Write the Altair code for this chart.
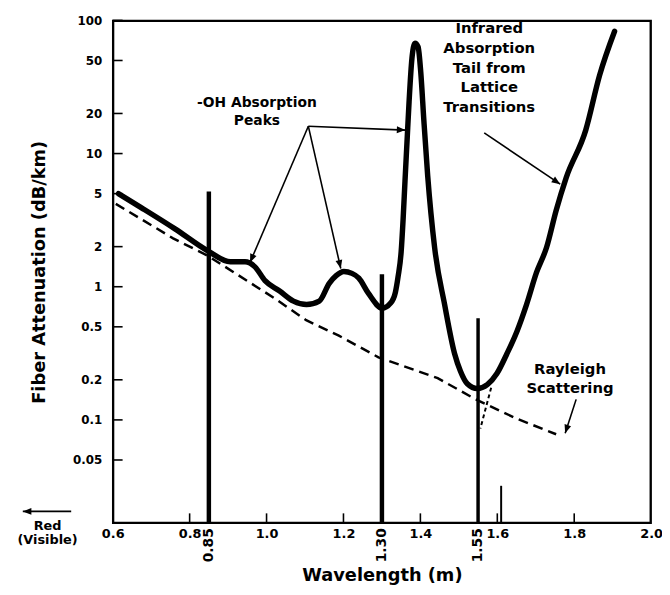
import math
import altair as alt
import pandas as pd

# ---------------- data ----------------
X_MIN, X_MAX = 0.6, 2.0
Y_MIN, Y_MAX = 0.01675, 100.0

x_ticks = [0.6, 0.8, 1.0, 1.2, 1.4, 1.6, 1.8, 2.0]
y_ticks = [0.05, 0.1, 0.2, 0.5, 1, 2, 5, 10, 20, 50, 100]
inner_x_ticks = [0.8, 1.0, 1.2, 1.4, 1.6, 1.8]
inner_y_ticks = [0.05, 0.1, 0.2, 0.5, 1, 2, 5, 10, 20, 50, 100]

# total fibre attenuation (dB/km) vs wavelength
atten_wl = [0.615, 0.674, 0.762, 0.847, 0.906, 0.944, 0.970, 0.996, 1.034, 1.070,
            1.104, 1.137, 1.163, 1.181, 1.201, 1.222, 1.240, 1.265, 1.301, 1.322,
            1.335, 1.342, 1.350, 1.355, 1.360, 1.3655, 1.3706, 1.378, 1.386, 1.394,
            1.401, 1.409, 1.419, 1.437, 1.463, 1.489, 1.504, 1.522, 1.548, 1.574,
            1.599, 1.625, 1.651, 1.676, 1.702, 1.728, 1.753, 1.779, 1.830, 1.866, 1.905]
atten_db = [5.0, 3.93, 2.72, 1.86, 1.54, 1.54, 1.41, 1.11, 0.93, 0.78,
            0.735, 0.78, 1.06, 1.21, 1.30, 1.26, 1.16, 0.89, 0.69, 0.75,
            0.908, 1.19, 1.83, 3.18, 6.22, 12.7, 24.5, 51.7, 67.4, 63.3,
            40.8, 17.8, 6.82, 1.97, 0.735, 0.314, 0.233, 0.187, 0.172, 0.184,
            0.223, 0.314, 0.462, 0.735, 1.28, 1.97, 3.74, 6.58, 15.0, 38.7, 82.8]

# Rayleigh scattering (dashed)
ray_wl = [0.608, 0.757, 0.847, 1.019, 1.103, 1.188, 1.291, 1.445, 1.543, 1.651, 1.753]
ray_db = [4.19, 2.31, 1.71, 0.825, 0.561, 0.429, 0.295, 0.206, 0.143, 0.102, 0.078]

# transmission windows
window_wl = [0.85, 1.30]
window_top = [5.2, 1.24]
window3_wl = [1.55]
window3_top = [0.58]
window_labels = ["0.85", "1.30", "1.55"]
window_label_wl = [0.85, 1.30, 1.55]
short_wl = [1.61]
short_top = [0.032]

# small dashed pointer near 1.55
dash_x1, dash_y1, dash_x2, dash_y2 = [1.584], [0.1745], [1.556], [0.0862]

# annotation arrows (start -> tip)
arrow_x1 = [1.1086, 1.1086, 1.1086, 1.566, 1.805, 0.492]
arrow_y1 = [16.05, 16.05, 16.05, 14.3, 0.1426, 0.02056]
arrow_x2 = [0.957, 1.193, 1.361, 1.7636, 1.7765, 0.3662]
arrow_y2 = [1.52, 1.37, 15.0, 5.89, 0.0794, 0.02056]

# annotation texts (anchor = top centre)
oh_text = ["-OH Absorption\nPeaks"]
oh_x, oh_y = [0.975], [27.2]
note_text = ["Infrared\nAbsorption\nTail from\nLattice\nTransitions", "Rayleigh\nScattering"]
note_x, note_y = [1.579, 1.789], [98.4, 0.273]
red_text = ["Red\n(Visible)"]
red_x, red_y = [0.4305], [0.0178]

# ---------------- chart ----------------
W, H = 545, 509
FONT = "DejaVu Sans"
TICK_PX = 10
LINE_PX = 1.6


def px(x):
    return (x - X_MIN) / (X_MAX - X_MIN) * W


def py(y):
    lo, hi = math.log10(Y_MIN), math.log10(Y_MAX)
    return (hi - math.log10(y)) / (hi - lo) * H


def heading(x1, y1, x2, y2):
    dx = px(x2) - px(x1)
    dy = py(y2) - py(y1)
    return math.degrees(math.atan2(dx, -dy)) % 360


def xshift(x, pix):
    return x + pix / W * (X_MAX - X_MIN)


def yshift(y, pix_up):
    lo, hi = math.log10(Y_MIN), math.log10(Y_MAX)
    return 10 ** (math.log10(y) + pix_up / H * (hi - lo))


xs = alt.Scale(domain=[X_MIN, X_MAX], nice=False, zero=False)
ys = alt.Scale(type="log", domain=[Y_MIN, Y_MAX], nice=False)

x_axis = alt.Axis(values=x_ticks, format=".1f", ticks=False, domain=False, grid=False,
                  labelFont=FONT, labelFontWeight="bold", labelFontSize=13,
                  labelColor="black", labelPadding=4, labelFlush=False, labelOverlap=False,
                  title="Wavelength (m)", titleFont=FONT, titleFontSize=18,
                  titleFontWeight="bold", titleColor="black",
                  titleX=W / 2, titleY=53, titleBaseline="middle", titleAlign="center")
y_axis = alt.Axis(values=y_ticks, format="~g", ticks=False, domain=False, grid=False,
                  labelFont=FONT, labelFontWeight="bold", labelFontSize=12,
                  labelColor="black", labelPadding=11, labelFlush=False, labelOverlap=False,
                  title="Fiber Attenuation (dB/km)", titleFont=FONT, titleFontSize=18,
                  titleFontWeight="bold", titleColor="black",
                  titleX=-74, titleY=H / 2, titleAngle=270,
                  titleBaseline="middle", titleAlign="center")


def X(f="x"):
    return alt.X(f, type="quantitative", scale=xs, axis=x_axis)


def Y(f="y"):
    return alt.Y(f, type="quantitative", scale=ys, axis=y_axis)


main_df = pd.DataFrame({"x": atten_wl, "y": atten_db})
ray_df = pd.DataFrame({"x": ray_wl, "y": ray_db})

ray = alt.Chart(ray_df).mark_line(color="black", strokeWidth=2.5, strokeDash=[10, 6]).encode(
    x=X(), y=Y())
main = alt.Chart(main_df).mark_line(color="black", strokeWidth=5.5, interpolate="monotone",
                                    strokeJoin="round", strokeCap="round").encode(x=X(), y=Y())

win_df = pd.DataFrame({"x": window_wl, "y": window_top, "y2": [Y_MIN] * len(window_wl)})
win = alt.Chart(win_df).mark_rule(color="black", strokeWidth=4.5).encode(
    x=X(), y=Y(), y2=alt.Y2("y2"))
win3_df = pd.DataFrame({"x": window3_wl, "y": window3_top, "y2": [Y_MIN] * len(window3_wl)})
win3 = alt.Chart(win3_df).mark_rule(color="black", strokeWidth=3.5).encode(
    x=X(), y=Y(), y2=alt.Y2("y2"))
short_df = pd.DataFrame({"x": short_wl, "y": short_top, "y2": [Y_MIN] * len(short_wl)})
short = alt.Chart(short_df).mark_rule(color="black", strokeWidth=2).encode(
    x=X(), y=Y(), y2=alt.Y2("y2"))

dash_df = pd.DataFrame({"x": dash_x1, "y": dash_y1, "x2": dash_x2, "y2": dash_y2})
dash = alt.Chart(dash_df).mark_rule(color="black", strokeWidth=2, strokeDash=[4, 3]).encode(
    x=X(), y=Y(), x2=alt.X2("x2"), y2=alt.Y2("y2"))

arr_df = pd.DataFrame({"x": arrow_x1, "y": arrow_y1, "x2": arrow_x2, "y2": arrow_y2})
arr_df["ang"] = [heading(a, b, c, d) for a, b, c, d in zip(arrow_x1, arrow_y1, arrow_x2, arrow_y2)]
arrows = alt.Chart(arr_df).mark_rule(color="black", strokeWidth=1.6).encode(
    x=X(), y=Y(), x2=alt.X2("x2"), y2=alt.Y2("y2"))
heads = alt.Chart(arr_df).mark_point(shape="M0,0L-0.4,1L0.4,1Z", filled=True, size=300,
                                     color="black", opacity=1, strokeWidth=0).encode(
    x=X("x2"), y=Y("y2"), angle=alt.Angle("ang:Q", scale=None))

# frame and inner ticks drawn as thin filled rectangles
rects = []
# frame: left, right, bottom, top
rects.append((X_MIN, xshift(X_MIN, LINE_PX), Y_MIN, Y_MAX))
rects.append((xshift(X_MAX, -LINE_PX), X_MAX, Y_MIN, Y_MAX))
rects.append((X_MIN, X_MAX, Y_MIN, yshift(Y_MIN, LINE_PX)))
rects.append((X_MIN, X_MAX, yshift(Y_MAX, -LINE_PX), Y_MAX))
for v in inner_x_ticks:
    rects.append((xshift(v, -LINE_PX / 2), xshift(v, LINE_PX / 2), Y_MIN, yshift(Y_MIN, TICK_PX)))
for v in inner_y_ticks:
    rects.append((X_MIN, xshift(X_MIN, TICK_PX), yshift(v, -LINE_PX / 2), yshift(v, LINE_PX / 2)))
rect_df = pd.DataFrame(rects, columns=["x", "x2", "y", "y2"])
frame = alt.Chart(rect_df).mark_rect(color="black", opacity=1).encode(
    x=X(), x2=alt.X2("x2"), y=Y(), y2=alt.Y2("y2"))

wl_df = pd.DataFrame({"x": window_label_wl, "t": window_labels})
wl = alt.Chart(wl_df).mark_text(font=FONT, fontWeight="bold", fontSize=14, angle=270,
                                align="right", baseline="middle", color="black").encode(
    x=X(), y=alt.value(H + 5), text="t:N")

oh_df = pd.DataFrame({"x": oh_x, "y": oh_y, "t": oh_text})
oh = alt.Chart(oh_df).mark_text(font=FONT, fontWeight="bold", fontSize=14, lineBreak="\n",
                                lineHeight=19, align="center", baseline="top",
                                color="black").encode(x=X(), y=Y(), text="t:N")
note_df = pd.DataFrame({"x": note_x, "y": note_y, "t": note_text})
notes = alt.Chart(note_df).mark_text(font=FONT, fontWeight="bold", fontSize=15, lineBreak="\n",
                                     lineHeight=20, align="center", baseline="top",
                                     color="black").encode(x=X(), y=Y(), text="t:N")
red_df = pd.DataFrame({"x": red_x, "y": red_y, "t": red_text})
red = alt.Chart(red_df).mark_text(font=FONT, fontWeight="bold", fontSize=13, lineBreak="\n",
                                  lineHeight=15, align="center", baseline="top",
                                  color="black").encode(x=X(), y=Y(), text="t:N")

chart = alt.layer(
    frame, win, win3, short, ray, dash, main, arrows, heads, wl, oh, notes, red
).properties(
    width=W, height=H,
    autosize=alt.AutoSizeParams(type="none"),
    padding={"left": 106, "top": 9, "right": 11, "bottom": 61},
).configure_view(stroke="black", strokeWidth=1.5)

chart.save("out.html", embed_options={"renderer": "svg", "actions": False})
